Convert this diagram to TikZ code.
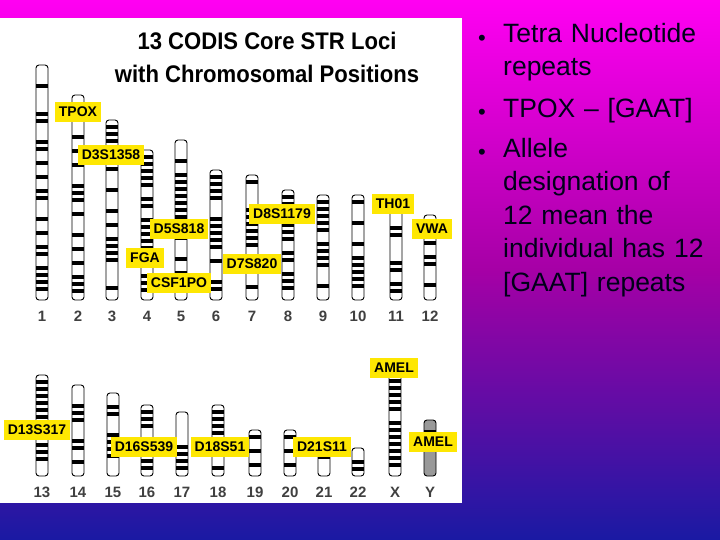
\documentclass[tikz,border=0pt]{standalone}
\usepackage{fontspec}
\setmainfont{Liberation Sans}
\hyphenpenalty=10000
\exhyphenpenalty=10000
\begin{document}
\begin{tikzpicture}[x=1pt,y=-1pt,
  lab/.style={fill=yellow!90!orange,inner xsep=4pt,inner ysep=5pt,font=\bfseries\fontsize{14}{15}\selectfont},
  num/.style={font=\bfseries\fontsize{15}{16}\selectfont,text=black!75},
  bul/.style={anchor=north west,align=left,font=\fontsize{26.5}{33.5}\selectfont,text=black!90!blue,text width=204pt,inner sep=0pt}]
\useasboundingbox (0,0) rectangle (720,540);
\shade[top color=magenta!95!red, bottom color=blue!60!black!90!white, middle color=violet!70!magenta] (0,0) rectangle (720,540);
\fill[white] (0,18) rectangle (462,503);
\pgfmathsetseed{7}
\newcommand\chrom[3]{%
 \draw[fill=white,rounded corners=3pt,line width=0.9pt] (#1-6,#2) rectangle (#1+6,#3);
 \pgfmathtruncatemacro\nb{(#3-#2)/7-1}
 \foreach \k in {1,...,\nb}{\pgfmathrandominteger{\r}{0}{2}\ifnum\r>0 \fill (#1-6,#2+\k*7-2) rectangle (#1+6,#2+\k*7+2);\fi}}
% top row
\foreach \x/\t/\b/\n in {42/65/300/1,78/95/300/2,112/120/300/3,147/150/300/4,181/140/300/5,216/170/300/6,252/175/300/7,288/190/300/8,323/195/300/9,358/195/300/10,396/200/300/11,430/215/300/12}{
  \chrom{\x}{\t}{\b}
  \node[num] (n\n) at (\x,316) {\n};}
% bottom row
\foreach \x/\t/\b/\n in {42/375/476/13,78/385/476/14,113/393/476/15,147/405/476/16,182/412/476/17,218/405/476/18,255/430/476/19,290/430/476/20,324/450/476/21,358/448/476/22,395/360/476/X}{
  \chrom{\x}{\t}{\b}
  \node[num] (n\n) at (\x,492) {\n};}
\draw[fill=black!40,rounded corners=3pt,line width=0.9pt] (424,420) rectangle (436,476);
\fill (424,430) rectangle (436,436);
\node[num] (nY) at (430,492) {Y};
% title
\node[font=\bfseries\fontsize{24}{33}\selectfont,align=center,xscale=0.92,transform shape] (title) at (267,57) {13 CODIS Core STR Loci\\with Chromosomal Positions};
% labels
\node[lab] (tpox) at (78,112) {TPOX};
\node[lab] (d3) at (111,155) {D3S1358};
\node[lab] (d5) at (179,229) {D5S818};
\node[lab] (d8) at (282,214) {D8S1179};
\node[lab] (th01) at (393,204) {TH01};
\node[lab] (vwa) at (432,229) {VWA};
\node[lab] (fga) at (145,258) {FGA};
\node[lab] (d7) at (252,264) {D7S820};
\node[lab] (csf) at (179,283) {CSF1PO};
\node[lab] (amel1) at (394,368) {AMEL};
\node[lab] (d13) at (37,430) {D13S317};
\node[lab] (d16) at (144,447) {D16S539};
\node[lab] (d18) at (220,447) {D18S51};
\node[lab] (d21) at (322,447) {D21S11};
\node[lab] (amel2) at (433,442) {AMEL};
% bullets
\node[bul] (b1) at (503,23) {Tetra Nucleotide repeats};
\node[bul] (b2) at (503,98) {TPOX -- [GAAT]};
\node[bul] (b3) at (503,138) {Allele designation of 12 mean the individual has 12 [GAAT] repeats};
\foreach \y in {40,114,154}{\node[font=\fontsize{22}{22}\selectfont,text=black!90!blue] at (482,\y) {•};}
\end{tikzpicture}
\end{document}
